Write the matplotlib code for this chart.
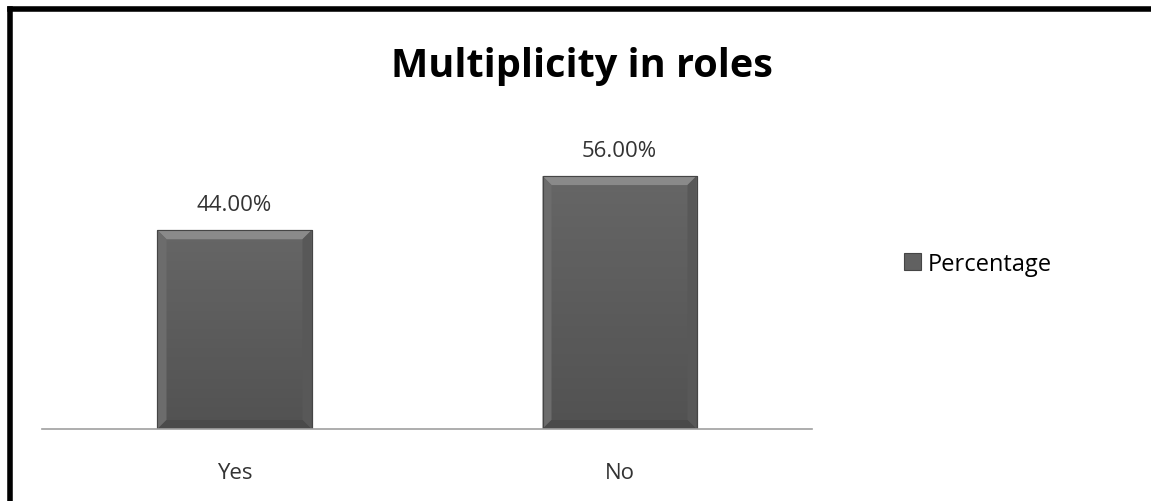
import numpy as np
import matplotlib.pyplot as plt
from matplotlib.lines import Line2D
from matplotlib.patches import Polygon
from matplotlib.colors import LinearSegmentedColormap

categories = ["Yes", "No"]
percentages = [44.0, 56.0]
series_name = "Percentage"
title = "Multiplicity in roles"

W, H = 1151, 502
fig = plt.figure(figsize=(W / 100, H / 100), dpi=100)
plt.rcParams['font.family'] = ['Open Sans', 'DejaVu Sans']

# plot area in pixels
left, right, base, top = 42, 812, 430, 159
ax = fig.add_axes([left / W, (H - base) / H, (right - left) / W, (base - top) / H])

x = range(len(categories))
bars = ax.bar(x, percentages, width=0.4, color="#616161", edgecolor="#454545",
              linewidth=0.8, label=series_name, zorder=2)

# shaded body + bevel so the bars look like the office "bevel" style
shade = LinearSegmentedColormap.from_list("shade", ["#525252", "#666666"])
grad = np.linspace(1, 0, 64).reshape(-1, 1)
bx = 9 / (right - left) * 2.0   # ~9 px bevel in data units
by = 9 / (base - top) * 60.0
for b in bars:
    x0, x1, h = b.get_x(), b.get_x() + b.get_width(), b.get_height()
    im = ax.imshow(grad, extent=[x0, x1, 0, h], cmap=shade, aspect="auto", zorder=2.1)
    im.set_clip_path(b)
    ax.add_patch(Polygon([[x0, h], [x1, h], [x1 - bx, h - by], [x0 + bx, h - by]],
                         closed=True, color="#8a8a8a", zorder=2.2, lw=0))
    ax.add_patch(Polygon([[x0, h], [x0 + bx, h - by], [x0 + bx, by], [x0, 0]],
                         closed=True, color="#6c6c6c", zorder=2.2, lw=0))
    ax.add_patch(Polygon([[x1, h], [x1 - bx, h - by], [x1 - bx, by], [x1, 0]],
                         closed=True, color="#585858", zorder=2.2, lw=0))
    ax.add_patch(Polygon([[x0, 0], [x1, 0], [x1 - bx, by], [x0 + bx, by]],
                         closed=True, color="#4a4a4a", zorder=2.2, lw=0))
    ax.add_patch(plt.Rectangle((x0, 0), x1 - x0, h, fill=False, ec="#454545",
                               lw=0.8, zorder=2.3))
    ax.text((x0 + x1) / 2, h + 5.6, f"{h:.2f}%", ha="center", va="center",
            fontsize=16, color="#333333")

ax.set_xlim(-0.5, 1.5)
ax.set_ylim(0, 60)
ax.set_xticks(list(x))
ax.set_xticklabels(categories, fontsize=16, color="#333333")
ax.tick_params(axis="x", length=0, pad=24)
ax.set_yticks([])
for s in ["top", "right", "left"]:
    ax.spines[s].set_visible(False)
ax.spines["bottom"].set_color("#a0a0a0")
ax.spines["bottom"].set_linewidth(1.2)
ax.spines["bottom"].set_zorder(3)

fig.text(582 / W, 1 - 66 / H, title, ha="center", va="center",
         fontsize=28.5, fontweight="bold", color="black")

fig.legend(handles=[bars[0]], labels=[series_name], loc="center left",
           bbox_to_anchor=(883 / W, 1 - 265 / H), frameon=False,
           fontsize=17, handlelength=0.7, handleheight=0.7, handletextpad=0.3)

# black frame on the top and left edges
fig.add_artist(Line2D([10 / W, 1], [1 - 10 / H, 1 - 10 / H], color="black", linewidth=4))
fig.add_artist(Line2D([10 / W, 10 / W], [0, 1 - 10 / H], color="black", linewidth=4))

fig.savefig("out.png", dpi=100)
